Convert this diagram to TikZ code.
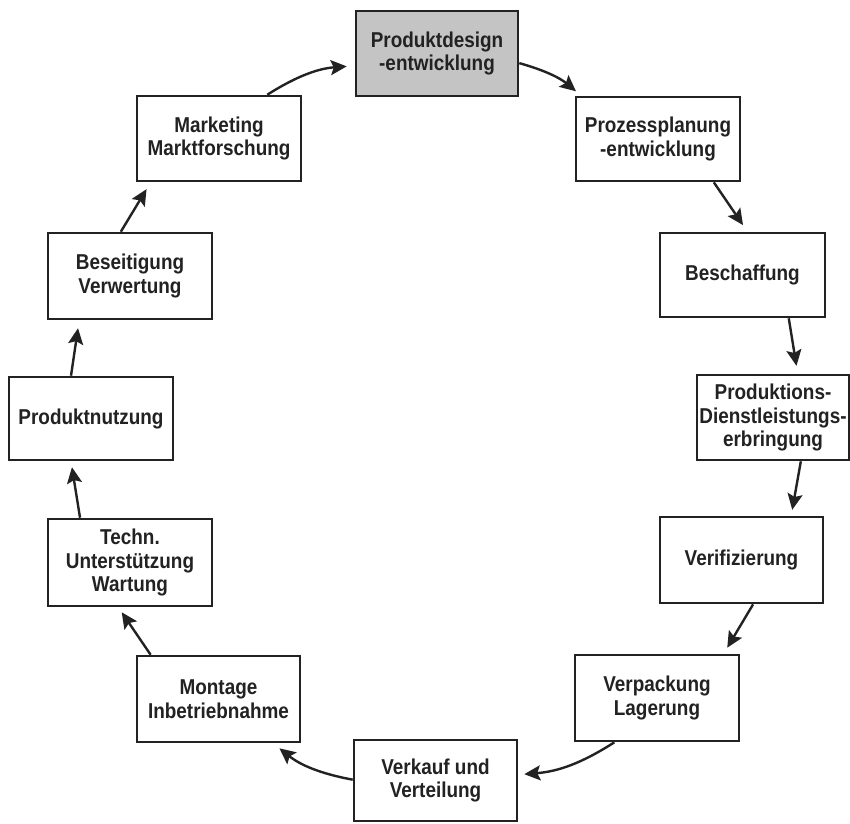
\documentclass[tikz,border=0pt]{standalone}
\usepackage{fontspec}
\setmainfont{Liberation Sans}[FakeStretch=0.88]
\usetikzlibrary{arrows.meta,calc}
\definecolor{ink}{RGB}{34,34,34}
\definecolor{boxgray}{RGB}{196,196,196}
\tikzset{
  stage/.style={draw=ink, line width=2.6pt, fill=white, text=ink, inner sep=0pt,
    align=center, font=\fontsize{21.5}{23.5}\selectfont\bfseries},
  flow/.style={draw=ink, line width=2.4pt, -{Stealth[length=16pt,width=15pt,inset=3pt]}}
}
\begin{document}
\begin{tikzpicture}[x=1pt,y=1pt]
\useasboundingbox (0,0) rectangle (850,-823);
\node[stage, fill=boxgray, minimum width=162, minimum height=85] (PD) at (437,-53.5) {Produktdesign\\-entwicklung};
\node[stage, minimum width=164, minimum height=84] (PP) at (658,-139) {Prozessplanung\\-entwicklung};
\node[stage, minimum width=165, minimum height=84] (BS) at (742.5,-275) {Beschaffung};
\node[stage, minimum width=152, minimum height=85] (PR) at (773,-417.5) {Produktions-\\Dienstleistungs-\\erbringung};
\node[stage, minimum width=163, minimum height=86] (VF) at (741.5,-560) {Verifizierung};
\node[stage, minimum width=164, minimum height=86] (VP) at (657,-698) {Verpackung\\Lagerung};
\node[stage, minimum width=163, minimum height=81] (VK) at (435.5,-780.5) {Verkauf und\\Verteilung};
\node[stage, minimum width=163, minimum height=86] (MO) at (218.5,-699) {Montage\\Inbetriebnahme};
\node[stage, minimum width=164, minimum height=87] (TE) at (130,-562.5) {Techn.\\Unterstützung\\Wartung};
\node[stage, minimum width=164, minimum height=83] (PN) at (91,-418.5) {Produktnutzung};
\node[stage, minimum width=164, minimum height=86] (BE) at (130,-276) {Beseitigung\\Verwertung};
\node[stage, minimum width=164, minimum height=85] (MA) at (219,-138.5) {Marketing\\Marktforschung};

\draw[flow, shorten >=8pt] ($(MA.north west)!0.79!(MA.north east)$) to[bend left=14] ($(PD.north west)!0.64!(PD.south west)$);
\draw[flow, shorten >=7pt] ($(PD.north east)!0.61!(PD.south east)$) to[bend left=12] ($(PP.north west)!0.04!(PP.north east)$);
\draw[flow, shorten >=8pt] ($(PP.south west)!0.835!(PP.south east)$) -- ($(BS.north west)!0.53!(BS.north east)$);
\draw[flow, shorten >=8pt] ($(BS.south west)!0.776!(BS.south east)$) -- ($(PR.north west)!0.66!(PR.north east)$);
\draw[flow, shorten >=6pt] ($(PR.south west)!0.68!(PR.south east)$) -- ($(VF.north west)!0.80!(VF.north east)$);
\draw[flow, shorten >=7pt] ($(VF.south west)!0.57!(VF.south east)$) -- ($(VP.north west)!0.90!(VP.north east)$);
\draw[flow, shorten >=6pt] ($(VP.south west)!0.244!(VP.south east)$) to[bend left=14] ($(VK.north east)!0.43!(VK.south east)$);
\draw[flow, shorten >=8pt] ($(VK.north west)!0.49!(VK.south west)$) to[bend left=14] ($(MO.south west)!0.83!(MO.south east)$);
\draw[flow, shorten >=6pt] ($(MO.north west)!0.09!(MO.north east)$) -- ($(TE.south west)!0.43!(TE.south east)$);
\draw[flow, shorten >=6pt] ($(TE.north west)!0.2!(TE.north east)$) -- ($(PN.south west)!0.38!(PN.south east)$);
\draw[flow, shorten >=8pt] ($(PN.north west)!0.38!(PN.north east)$) -- ($(BE.south west)!0.195!(BE.south east)$);
\draw[flow, shorten >=8pt] ($(BE.north west)!0.445!(BE.north east)$) -- ($(MA.south west)!0.09!(MA.south east)$);
\end{tikzpicture}
\end{document}
